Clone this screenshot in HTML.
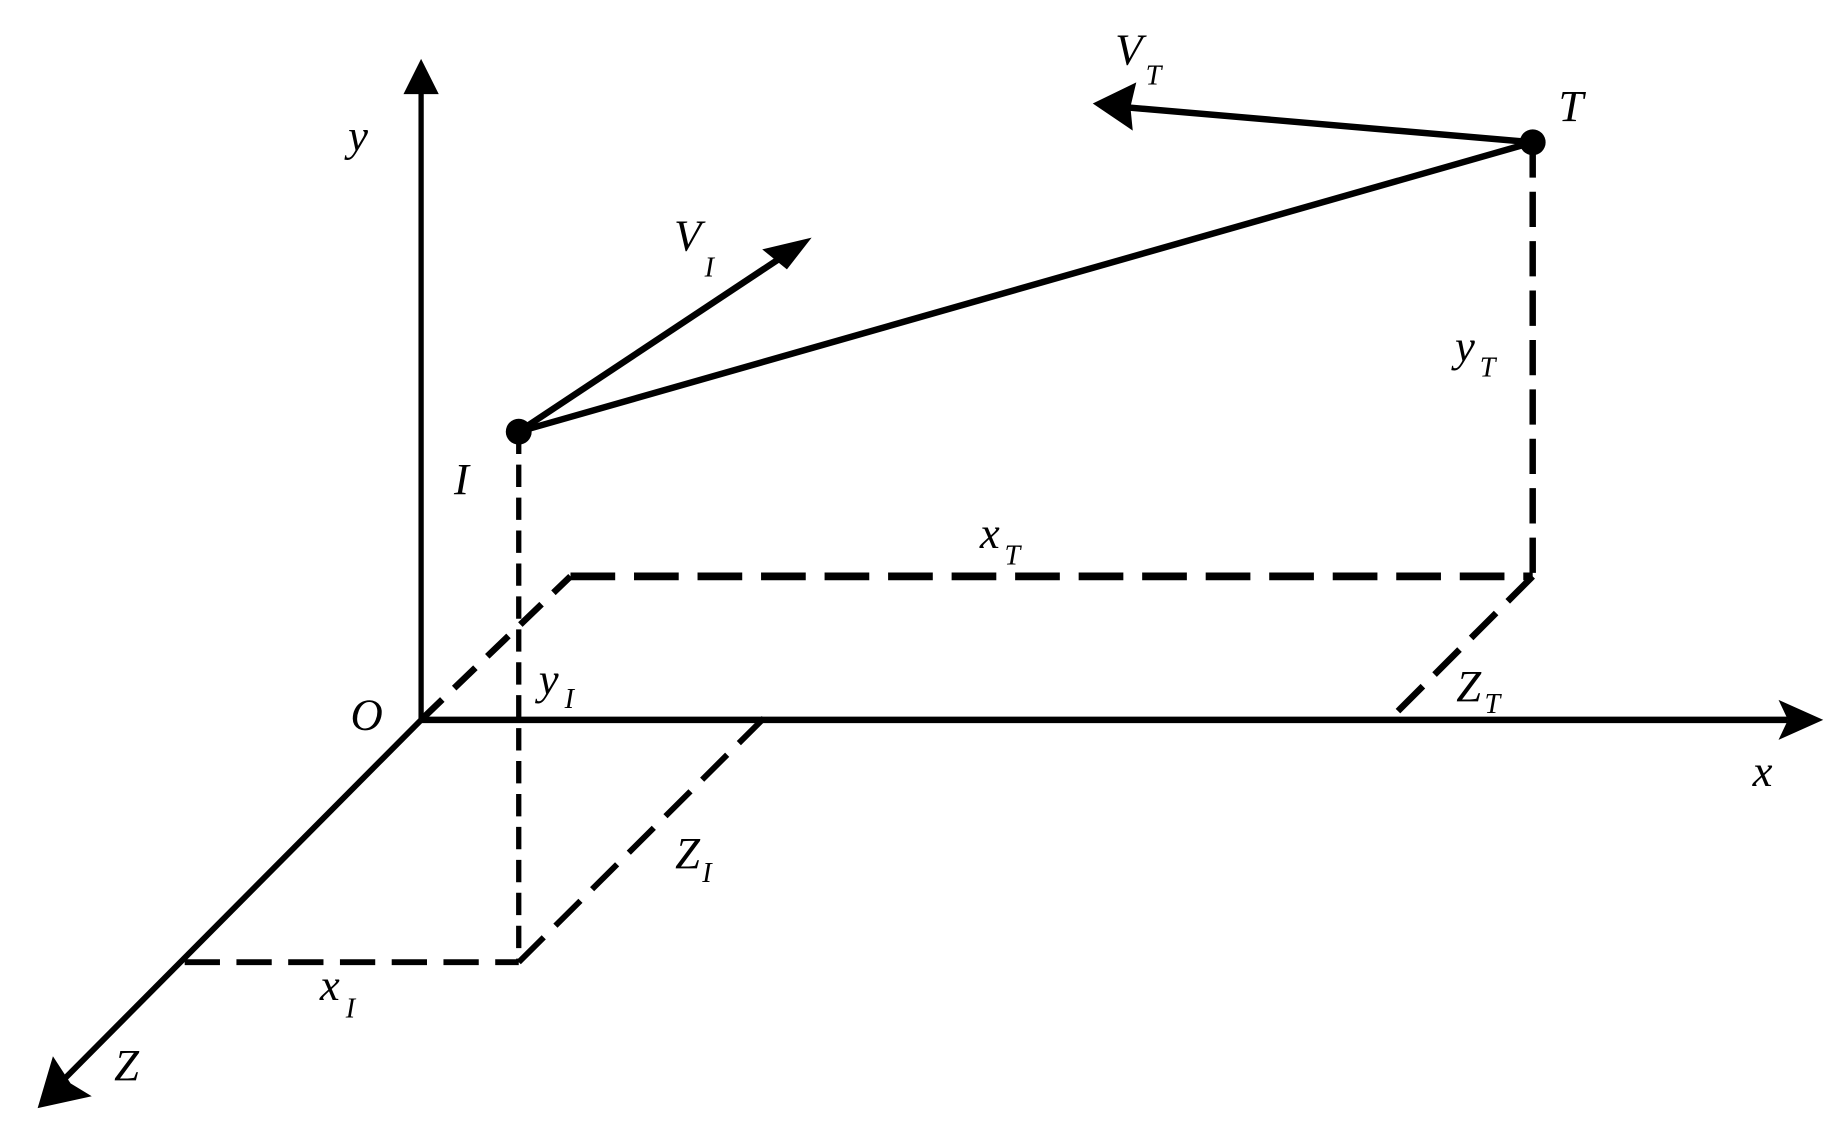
<!DOCTYPE html>
<html><head><meta charset="utf-8"><style>
html,body{margin:0;padding:0;background:#fff;}
svg{display:block;}
text{font-family:"Liberation Serif","DejaVu Serif",serif;font-style:italic;fill:#000;}
</style></head><body>
<svg width="1835" height="1139" viewBox="0 0 1560 968.3" preserveAspectRatio="none" xmlns="http://www.w3.org/2000/svg">
<g stroke="#000" fill="none" stroke-linecap="butt">
 <line x1="358" y1="612" x2="358" y2="75" stroke-width="4.5"/>
 <line x1="358" y1="612" x2="1520" y2="612" stroke-width="5.5"/>
 <line x1="358" y1="612" x2="50" y2="922" stroke-width="5"/>
 <line x1="441" y1="367" x2="441" y2="818" stroke-width="4.5" stroke-dasharray="19 9"/>
 <line x1="157" y1="818" x2="441" y2="818" stroke-width="5" stroke-dasharray="30 14"/>
 <line x1="441" y1="818" x2="650" y2="610" stroke-width="5" stroke-dasharray="30 14"/>
 <line x1="358" y1="612" x2="485" y2="490" stroke-width="5.5" stroke-dasharray="25 14"/>
 <line x1="485" y1="490" x2="1303" y2="490" stroke-width="6.5" stroke-dasharray="38 16"/>
 <line x1="1303" y1="121" x2="1303" y2="490" stroke-width="5.5" stroke-dasharray="30 12"/>
 <line x1="1303" y1="490" x2="1183" y2="610" stroke-width="5.5" stroke-dasharray="30 14"/>
 <line x1="441" y1="367" x2="1303" y2="121" stroke-width="5.5"/>
 <line x1="441" y1="367" x2="670" y2="215" stroke-width="5.5"/>
 <line x1="1303" y1="121" x2="955" y2="91" stroke-width="5.5"/>
</g>
<g fill="#000">
 <polygon points="358,50 343,80 373,80"/>
 <polygon points="1550,612 1512,595 1520,612 1512,629"/>
 <polygon points="32,942 45,898 60,921 78,932"/>
 <polygon points="690,202 648,212 669,229"/>
 <polygon points="929,88 966,70 961,91 963,111"/>
 <circle cx="441" cy="367" r="11"/>
 <circle cx="1303" cy="121" r="11"/>
</g>
<g font-size="38">
 <text x="296" y="128">y</text>
 <text x="573" y="213">V</text><text x="599" y="235" font-size="24">I</text>
 <text x="948" y="55">V</text><text x="974" y="72" font-size="24">T</text>
 <text x="1325" y="103">T</text>
 <text x="1237" y="307">y</text><text x="1258" y="320" font-size="24">T</text>
 <text x="386" y="420">I</text>
 <text x="833" y="466">x</text><text x="854" y="480" font-size="24">T</text>
 <text x="458" y="590">y</text><text x="480" y="602" font-size="24">I</text>
 <text x="1238" y="596">Z</text><text x="1262" y="606" font-size="24">T</text>
 <text x="298" y="620">O</text>
 <text x="1490" y="668">x</text>
 <text x="574" y="738">Z</text><text x="597" y="750" font-size="24">I</text>
 <text x="272" y="850">x</text><text x="294" y="865" font-size="24">I</text>
 <text x="97" y="918">Z</text>
</g>
</svg>
</body></html>
